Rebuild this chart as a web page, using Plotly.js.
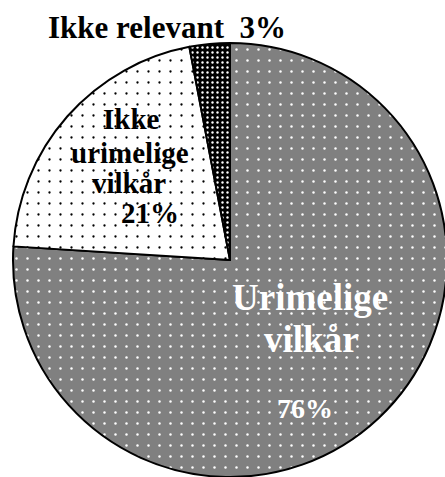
<!DOCTYPE html>
<html>
<head>
<meta charset="utf-8">
<script src="https://cdn.plot.ly/plotly-3.0.1.min.js"></script>
<style>
html,body{margin:0;padding:0;background:#fff;overflow:hidden;width:445px;height:477px;}
#chart{width:460px;height:480px;}
</style>
</head>
<body>
<div id="chart"></div>
<script>
// ---- data ----
const labels = ["Urimelige vilkår", "Ikke urimelige vilkår", "Ikke relevant"];
const values = [76, 21, 3];

// ---- styles ----
const W = 460, H = 480;
const cx = 230, cy = 260, R = 217;
const sliceColors = ["#808080", "#ffffff", "#000000"];
const dotColors = ["#ffffff", "#000000", "#ffffff"];
const dotSizes = [11, 11, 5];
const dotSolidity = [0.04, 0.035, 0.18];
const FONT = "'Liberation Serif', 'Times New Roman', serif";

const px = x => x / W;
const py = y => 1 - y / H;

const pct = v => v + "%";

function ann(text, x, y, size, color) {
  return {
    text: "<b>" + text + "</b>", x: px(x), y: py(y), xref: "paper", yref: "paper",
    xanchor: "center", yanchor: "middle", showarrow: false,
    font: {family: FONT, size: size, color: color}
  };
}

const annotations = [];
// Largest slice label (white, inside)
const bigWords = labels[0].split(" ");
annotations.push(ann(bigWords[0], 310, 297.5, 37, "#ffffff"));
annotations.push(ann(bigWords[1], 311, 339.5, 37, "#ffffff"));
annotations.push(ann(pct(values[0]), 304.5, 408.5, 28, "#ffffff"));
// Middle slice label (black, inside)
const midWords = labels[1].split(" ");
annotations.push(ann(midWords[0], 131, 119, 29, "#000000"));
annotations.push(ann(midWords[1], 130, 153, 29, "#000000"));
annotations.push(ann(midWords[2], 129, 183, 29, "#000000"));
annotations.push(ann(pct(values[1]), 150, 213, 29, "#000000"));
// Smallest slice label, outside on top
annotations.push(ann(labels[2] + "\u00a0 " + pct(values[2]), 167, 27.5, 31, "#000000"));

const trace = {
  type: "pie",
  labels: labels,
  values: values,
  sort: false,
  direction: "clockwise",
  rotation: 0,
  textinfo: "none",
  hoverinfo: "none",
  domain: {x: [(cx - R) / W, (cx + R) / W], y: [(H - cy - R) / H, (H - cy + R) / H]},
  marker: {
    colors: sliceColors,
    line: {color: "#000000", width: 2},
    pattern: {
      shape: ".",
      fillmode: "replace",
      bgcolor: sliceColors,
      fgcolor: dotColors,
      size: dotSizes,
      solidity: dotSolidity
    }
  }
};

const layout = {
  width: W, height: H,
  margin: {l: 0, r: 0, t: 0, b: 0},
  paper_bgcolor: "#ffffff",
  plot_bgcolor: "#ffffff",
  showlegend: false,
  font: {family: FONT},
  annotations: annotations
};

Plotly.newPlot("chart", [trace], layout, {staticPlot: true, displayModeBar: false});
</script>
</body>
</html>
